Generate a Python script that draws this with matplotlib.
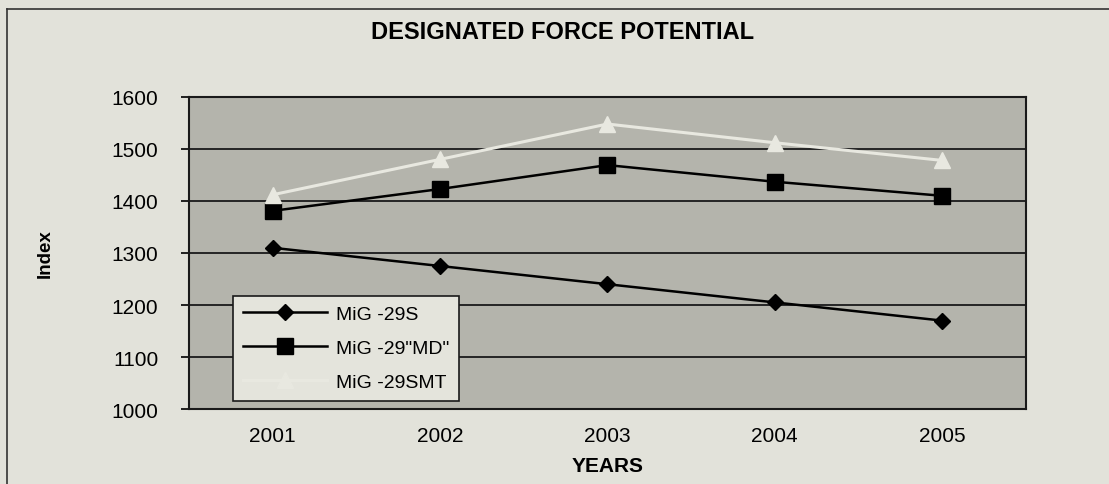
import matplotlib.pyplot as plt
from matplotlib.lines import Line2D

years = ['2001', '2002', '2003', '2004', '2005']
mig29s = [1310, 1275, 1240, 1205, 1170]
mig29md = [1381, 1423, 1469, 1437, 1410]
mig29smt = [1412, 1480, 1548, 1512, 1478]

plt.rcParams['font.family'] = ['Liberation Sans', 'DejaVu Sans']

fig = plt.figure(figsize=(11.09, 4.85), dpi=100, facecolor='#e2e2da')
ax = fig.add_axes([0.1704, 0.1546, 0.7546, 0.6434])
ax.set_facecolor('#b4b4ac')

x = range(len(years))
ax.plot(x, mig29s, color='black', linewidth=1.8, marker='D', markersize=8.5, label='MiG -29S')
ax.plot(x, mig29md, color='black', linewidth=1.8, marker='s', markersize=11, label='MiG -29"MD"')
ax.plot(x, mig29smt, color='#e8e8e0', linewidth=2.2, marker='^', markersize=11, label='MiG -29SMT')

ax.set_xlim(-0.5, 4.5)
ax.set_ylim(1000, 1600)
ax.set_yticks(range(1000, 1601, 100))
ax.set_xticks(list(x))
ax.set_xticklabels(years)
ax.tick_params(axis='y', direction='out', length=6, width=1.2, labelsize=15, pad=16)
ax.tick_params(axis='x', length=0, labelsize=15, pad=12)
ax.grid(axis='y', color='#1a1a1a', linewidth=1.3)
ax.set_axisbelow(True)
for s in ax.spines.values():
    s.set_color('#1a1a1a')
    s.set_linewidth(1.5)

ax.set_ylabel('Index', fontsize=13.5, fontweight='bold')
ax.yaxis.set_label_coords(-0.162, 0.5)
ax.set_xlabel('YEARS', fontsize=15, fontweight='bold', labelpad=8)
fig.text(0.507, 0.932, 'DESIGNATED FORCE POTENTIAL', ha='center', va='center',
         fontsize=17, fontweight='bold')

leg = ax.legend(loc='lower left', bbox_to_anchor=(0.053, 0.026), borderaxespad=0,
                fontsize=14, frameon=True, fancybox=False, handlelength=4.3,
                borderpad=0.5, labelspacing=0.85, handletextpad=0.5)
leg.get_frame().set_facecolor('#e4e4dc')
leg.get_frame().set_edgecolor('#1a1a1a')
leg.get_frame().set_alpha(1)
leg.get_frame().set_linewidth(1.2)

# outer frame
fig.add_artist(Line2D([0.0063, 1.0], [0.979, 0.979], color='#333333', linewidth=1.2, transform=fig.transFigure))
fig.add_artist(Line2D([0.0063, 0.0063], [0.0, 0.979], color='#333333', linewidth=1.2, transform=fig.transFigure))

fig.savefig('out.png', dpi=100, facecolor=fig.get_facecolor())
